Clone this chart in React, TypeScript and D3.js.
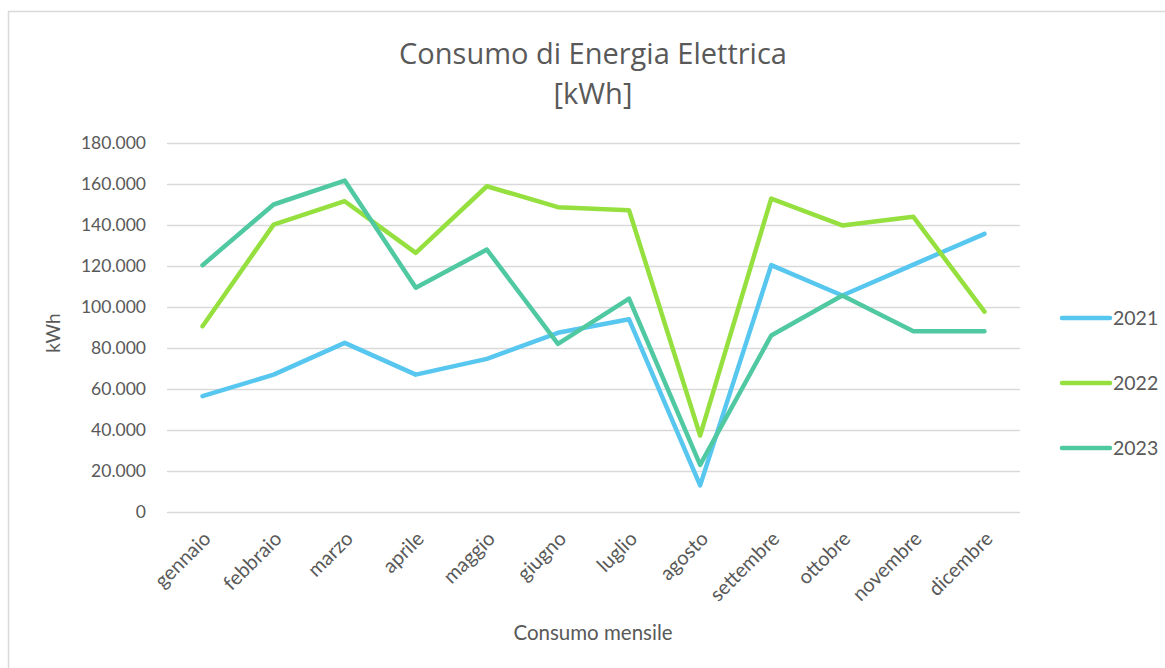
import React, { useEffect, useRef } from 'react';
import * as d3 from 'd3';

const months = [
  'gennaio', 'febbraio', 'marzo', 'aprile', 'maggio', 'giugno',
  'luglio', 'agosto', 'settembre', 'ottobre', 'novembre', 'dicembre',
];
const years = ['2021', '2022', '2023'];
const values2021 = [56500, 67000, 82500, 67000, 74700, 87400, 94000, 13000, 120400, 105600, 120700, 135700];
const values2022 = [90600, 140200, 151600, 126400, 158900, 148700, 147200, 37300, 152900, 139800, 144000, 97700];
const values2023 = [120400, 150000, 161700, 109400, 128000, 82000, 104100, 23000, 86100, 105600, 88200, 88200];
const yTicks = [0, 20000, 40000, 60000, 80000, 100000, 120000, 140000, 160000, 180000];
const colors = ['#58C7F0', '#95E03F', '#50C9A2'];

const W = 1165;
const H = 668;
const margin = { top: 143, right: 145, bottom: 156, left: 167 };
const FONT = 'Lato, "Open Sans", sans-serif';
const TEXT = '#595959';

const App = () => {
  const svgRef = useRef(null);

  useEffect(() => {
    const width = W - margin.left - margin.right;
    const height = H - margin.top - margin.bottom;
    const series = [values2021, values2022, values2023].map((v, i) => ({
      name: years[i],
      color: colors[i],
      items: v.map((value, j) => ({ month: months[j], value })),
    }));

    const svgEl = d3.select(svgRef.current);
    svgEl.selectAll('*').remove();

    // outer chart frame
    svgEl
      .append('rect')
      .attr('x', 8.5)
      .attr('y', 11.5)
      .attr('width', W + 20)
      .attr('height', H + 20)
      .attr('fill', '#fff')
      .attr('stroke', '#d9d9d9')
      .attr('stroke-width', 1.5);

    // title
    const title = svgEl
      .append('text')
      .attr('text-anchor', 'middle')
      .attr('fill', TEXT)
      .attr('font-family', '"Open Sans", sans-serif')
      .attr('font-size', 29);
    title.append('tspan').attr('x', 593).attr('y', 64).text('Consumo di Energia Elettrica');
    title.append('tspan').attr('x', 593).attr('y', 104).text('[kWh]');

    const svg = svgEl
      .append('g')
      .attr('transform', `translate(${margin.left},${margin.top})`);

    const xScale = d3.scalePoint().domain(months).range([0, width]).padding(0.5);
    const yScale = d3.scaleLinear().domain([0, 180000]).range([height, 0]);

    // Y grid lines with labels
    const yAxis = d3
      .axisLeft(yScale)
      .tickValues(yTicks)
      .tickSize(-width)
      .tickPadding(21)
      .tickFormat((v) => (v === 0 ? '0' : d3.format(',')(v).replace(/,/g, '.')));
    const yAxisGroup = svg.append('g').call(yAxis);
    yAxisGroup.select('.domain').remove();
    yAxisGroup.selectAll('line').attr('stroke', '#d9d9d9').attr('stroke-width', 1.5);
    yAxisGroup
      .selectAll('text')
      .attr('fill', TEXT)
      .attr('font-family', FONT)
      .attr('font-size', 17.5);

    // X labels, rotated
    const xAxis = d3.axisBottom(xScale).tickSize(0).tickPadding(0);
    const xAxisGroup = svg
      .append('g')
      .attr('transform', `translate(0, ${height})`)
      .call(xAxis);
    xAxisGroup.select('.domain').remove();
    xAxisGroup
      .selectAll('text')
      .attr('fill', TEXT)
      .attr('font-family', FONT)
      .attr('font-size', 20)
      .attr('text-anchor', 'end')
      .attr('dy', 0)
      .attr('transform', 'translate(9, 28) rotate(-45)');

    // axis titles
    svgEl
      .append('text')
      .attr('x', 593)
      .attr('y', 640)
      .attr('text-anchor', 'middle')
      .attr('fill', TEXT)
      .attr('font-family', FONT)
      .attr('font-size', 20.5)
      .text('Consumo mensile');
    svgEl
      .append('text')
      .attr('transform', 'translate(60, 333) rotate(-90)')
      .attr('text-anchor', 'middle')
      .attr('fill', TEXT)
      .attr('font-family', FONT)
      .attr('font-size', 19)
      .text('kWh');

    // Draw the lines
    const line = d3
      .line()
      .x((d) => xScale(d.month))
      .y((d) => yScale(d.value));

    svg
      .selectAll('.line')
      .data(series)
      .enter()
      .append('path')
      .attr('fill', 'none')
      .attr('stroke', (d) => d.color)
      .attr('stroke-width', 4.5)
      .attr('stroke-linejoin', 'round')
      .attr('stroke-linecap', 'round')
      .attr('d', (d) => line(d.items));

    // legend
    const legend = svgEl
      .selectAll('.legend')
      .data(series)
      .enter()
      .append('g')
      .attr('transform', (d, i) => `translate(1060, ${318 + i * 65})`);
    legend
      .append('line')
      .attr('x1', 2)
      .attr('x2', 50)
      .attr('stroke', (d) => d.color)
      .attr('stroke-width', 4.5)
      .attr('stroke-linecap', 'round');
    legend
      .append('text')
      .attr('x', 53)
      .attr('dy', '0.36em')
      .attr('fill', TEXT)
      .attr('font-family', FONT)
      .attr('font-size', 19.5)
      .text((d) => d.name);
  }, []);

  return (
    <svg
      ref={svgRef}
      width={W}
      height={H}
      style={{ position: 'absolute', left: 0, top: 0, display: 'block' }}
    />
  );
};

export default App;
